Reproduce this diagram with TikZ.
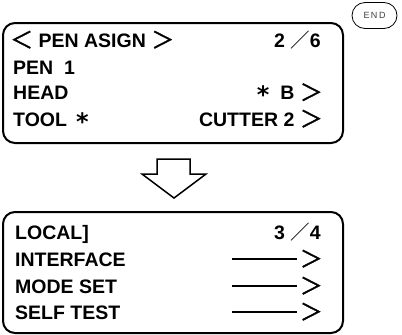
\documentclass[tikz,border=0pt]{standalone}
\usepackage{fontspec}
\setmainfont{Liberation Sans}
\newfontfamily\cjk{Noto Sans CJK JP}
\newfontfamily\cjkheavy[FakeBold=1.2]{Noto Sans CJK JP}
\newfontfamily\dejavu{DejaVu Sans}
\usetikzlibrary{positioning}
\tikzset{
  panel/.style={draw,line width=2pt,rounded corners=12pt},
  lcdrow/.style={anchor=base west,inner sep=0pt,font=\fontsize{19.5}{19.5}\selectfont\bfseries},
  lcdrowr/.style={lcdrow,anchor=base east},
  endkey/.style={draw,line width=.8pt,rounded corners=13pt,minimum width=45pt,
    minimum height=26pt,inner sep=0pt,font=\fontsize{9}{9}\selectfont,text=black!75},
}
\newcommand{\fwslash}{{\cjk\mdseries ／}}
\newcommand{\fwgt}{\smash{\raisebox{-1.3pt}{\cjkheavy\mdseries\fontsize{23}{23}\selectfont ＞}}}
\newcommand{\fwlt}{\smash{\raisebox{-1.3pt}{\cjkheavy\mdseries\fontsize{23}{23}\selectfont ＜}}}
\newcommand{\fwstar}{\raisebox{-4pt}{\dejavu\bfseries\fontsize{24}{24}\selectfont *}}
\newcommand{\menuarrow}{\rule[6.5pt]{65pt}{1.3pt}\hspace{3pt}\fwgt}

\begin{document}
\begin{tikzpicture}[x=1pt,y=-1pt]
  \useasboundingbox (0,0) rectangle (402,335);
  \node[endkey] (endkey) at (374.5,15.5) {E\,N\,D};
  % upper screen
  \draw[panel] (3,23) rectangle (343,143);
  \node[lcdrow] (title) at (10,47) {\fwlt\ PEN ASIGN \fwgt};
  \node[lcdrow] (pen) at (13,74) {PEN\ \ 1};
  \node[lcdrow] (head) at (13,99.5) {HEAD};
  \node[lcdrow] (tool) at (13,126) {TOOL\hspace{9pt}\fwstar};
  \node[lcdrowr] (page1) at (321,47) {2 \fwslash 6};
  \node[lcdrowr] (headval) at (323,99.5) {\fwstar\ \ B \fwgt};
  \node[lcdrowr] (toolval) at (323,126) {CUTTER 2 \fwgt};
  % hollow arrow
  \draw[line width=1.5pt,line join=miter] (157,159) -- (190,159) -- (190,174)
    -- (206,174) -- (174,198) -- (142,174) -- (157,174) -- cycle;
  % lower screen
  \draw[panel] (3,212) rectangle (343,333);
  \node[lcdrow] (local) at (15,239) {LOCAL]};
  \node[lcdrowr] (page2) at (321,239) {3 \fwslash 4};
  \foreach \name/\y in {INTERFACE/266,MODE SET/293,SELF TEST/319}{
    \node[lcdrow] (item\y) at (15,\y) {\name};
    \node[lcdrowr] (go\y) at (323,\y) {\menuarrow};
  }
\end{tikzpicture}
\end{document}
